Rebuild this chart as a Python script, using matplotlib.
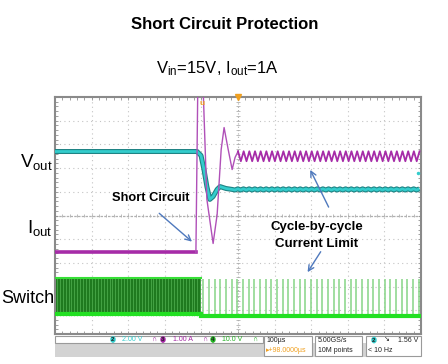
import numpy as np
import matplotlib
matplotlib.use('Agg')
import matplotlib.pyplot as plt
from matplotlib.patches import Rectangle

plt.rcParams['font.family'] = ['Liberation Sans', 'DejaVu Sans']
plt.rcParams['mathtext.fontset'] = 'custom'
plt.rcParams['mathtext.rm'] = 'Liberation Sans'
plt.rcParams['mathtext.it'] = 'Liberation Sans:italic'
plt.rcParams['mathtext.bf'] = 'Liberation Sans:bold'

# --- data, in screen divisions (x: -5..5, y: -5..5) ---
# Vout (cyan)
vout_x = [-5.0, -1.12, -1.01, -0.93, -0.85, -0.77, -0.68, -0.57, -0.49, -0.33, -0.16]
vout_y = [2.70, 2.70, 2.53, 1.94, 1.22, 0.68, 0.80, 1.10, 1.22, 1.14, 1.10]
vout_level = 1.10
vout_ripple = 0.025

# Iout (magenta)
iout_x = [-5.0, -1.15, -1.09, -0.98, -0.85, -0.68, -0.57, -0.46, -0.38, -0.27, -0.16, -0.08, 0.0]
iout_y = [-1.56, -1.56, 6.6, 6.6, 0.68, -1.18, 0.04, 2.78, 3.71, 2.80, 1.94, 2.45, 2.70]
iout_hi = 2.71
iout_lo = 2.29

# switching period after the short (cycle-by-cycle), divisions
sw_period = 0.155
sw_dense_end = -1.01
sw_dense_period = 0.08
sw_top = -2.62
sw_base = -4.22

fig = plt.figure(figsize=(4.48, 3.64), dpi=100)
ax = fig.add_axes([55 / 448, 30 / 364, 366 / 448, 237 / 364])
ax.set_xlim(-5, 5)
ax.set_ylim(-5, 5)

# grid
for i in range(-4, 5):
    if i == 0:
        continue
    ax.axvline(i, color='#c4c4c4', lw=0.8, ls=(0, (1, 3)), zorder=0)
    ax.axhline(i, color='#c4c4c4', lw=0.8, ls=(0, (1, 3)), zorder=0)
ax.axvline(0, color='#b0b0b0', lw=0.8, ls=(0, (1, 2)), zorder=0)
ax.axhline(0, color='#b0b0b0', lw=0.9, ls=(0, (2, 1)), zorder=0)
mt = np.arange(-5, 5.01, 0.2)
ax.vlines(mt, -0.08, 0.08, color='#b0b0b0', lw=0.6, zorder=0)
ax.hlines(mt, -0.05, 0.05, color='#b0b0b0', lw=0.6, zorder=0)

ax.set_xticks(mt)
ax.set_yticks(mt)
ax.tick_params(direction='in', length=2, width=0.6, color='#909090',
               top=True, right=True, labelbottom=False, labelleft=False)
for s in ax.spines.values():
    s.set_color('#8a8a8a')
    s.set_linewidth(1.5)

# switch node (green)
ax.fill_between([-5, sw_dense_end], sw_base, sw_top, color='#1f7a1f', lw=0, zorder=2)
dense_x = np.arange(-4.95, sw_dense_end, sw_dense_period)
ax.vlines(dense_x, sw_base, sw_top, color='#6fd06f', lw=0.6, alpha=0.55, zorder=2)
ax.plot([-5, sw_dense_end], [sw_top, sw_top], color='#36e036', lw=1.5, zorder=3)
pulse_x = np.arange(sw_dense_end + 0.06, 5, sw_period)
ax.vlines(pulse_x, sw_base, sw_top - 0.05, color='#86d486', lw=1.1, zorder=2)
ax.plot([-5, sw_dense_end], [sw_base + 0.08, sw_base + 0.08], color='#22e022', lw=3, zorder=3)
ax.plot([sw_dense_end, 5], [sw_base, sw_base], color='#22e022', lw=3, zorder=3)

# Vout
rx = np.arange(-0.16, 5.0, sw_period / 2)
ry = vout_level + vout_ripple * np.where(np.arange(len(rx)) % 2 == 0, 1, -1)
vx = np.concatenate([vout_x, rx[1:]])
vy = np.concatenate([vout_y, ry[1:]])
ax.plot(vx, vy, color='#1e8384', lw=3.6, zorder=4, solid_capstyle='butt')
ax.plot(vx, vy, color='#33cccc', lw=2.0, zorder=4, solid_capstyle='butt')

# Iout
ax.plot(iout_x[:2], iout_y[:2], color='#a62ca8', lw=2.6, zorder=5)
ix = np.arange(0.0, 5.0, sw_period / 2)
iy = np.where(np.arange(len(ix)) % 2 == 0, iout_hi, iout_lo)
ax.plot(iout_x[1:], iout_y[1:], color='#b050b8', lw=1.0, zorder=5)
ax.plot(ix, iy, color='#a62ca8', lw=1.3, zorder=5)

# markers
ax.plot([0], [5], marker='v', color='#f0a020', ms=4, clip_on=False, zorder=6)
ax.text(-0.98, 4.72, 'u', color='#f0a020', fontsize=6, fontweight='bold', ha='center', va='center', zorder=6)
ax.plot([4.93], [1.81], marker='.', color='#33cccc', ms=3, zorder=6)

# annotations
arr = dict(arrowstyle='->', color='#4f79bd', lw=1.0, mutation_scale=10)
ax.text(-3.44, 0.63, 'Short Circuit', fontsize=9.3, fontweight='bold', ha='left', va='baseline', zorder=7)
ax.annotate('', xy=(-1.20, -1.18), xytext=(-2.21, 0.17), arrowprops=arr, zorder=7)
ax.text(2.16, -0.63, 'Cycle-by-cycle', fontsize=9.5, fontweight='bold', ha='center', va='baseline', zorder=7)
ax.text(2.16, -1.31, 'Current Limit', fontsize=9.5, fontweight='bold', ha='center', va='baseline', zorder=7)
ax.annotate('', xy=(1.94, 2.03), xytext=(2.51, 0.25), arrowprops=arr, zorder=7)
ax.annotate('', xy=(1.86, -2.49), xytext=(2.30, -1.43), arrowprops=arr, zorder=7)

# titles and channel labels
fig.text(225 / 448, 1 - 29 / 364, 'Short Circuit Protection', fontsize=12, fontweight='bold',
         ha='center', va='baseline')
fig.text(217 / 448, 1 - 73 / 364, r'V$_{\mathrm{in}}$=15V, I$_{\mathrm{out}}$=1A', fontsize=12,
         ha='center', va='baseline')
fig.text(53 / 448, 1 - 167 / 364, r'V$_{\mathrm{out}}$', fontsize=13.5, ha='right', va='baseline')
fig.text(53 / 448, 1 - 233 / 364, r'I$_{\mathrm{out}}$', fontsize=13.5, ha='right', va='baseline')
fig.text(54 / 448, 1 - 303 / 364, 'Switch', fontsize=13, ha='right', va='baseline')

# status bar, pixel overlay
ov = fig.add_axes([0, 0, 1, 1], zorder=5)
ov.set_xlim(0, 448)
ov.set_ylim(364, 0)
ov.axis('off')
ov.add_patch(Rectangle((55, 343), 366, 14, fc='#d3d3d3', ec='none'))
ov.add_patch(Rectangle((55, 335.5), 208, 7.5, fc='white', ec='#9a9a9a', lw=0.8))
for bx, bw in [(264, 48), (315, 47), (366, 55)]:
    ov.add_patch(Rectangle((bx, 335.5), bw, 20.5, fc='white', ec='#9a9a9a', lw=0.8))

fs = 5
def badge(x, y, s, c):
    ov.text(x, y, s, fontsize=4.5, fontweight='bold', color='#202020', ha='center', va='center',
            bbox=dict(boxstyle='round,pad=0.15,rounding_size=0.5', fc=c, ec='none'))

badge(113, 339.5, '2', '#33cccc')
ov.text(122, 339.5, '2.00 V', fontsize=fs, color='#33cccc', va='center')
ov.text(152, 339.5, '\u2229', fontsize=fs, color='#a326a3', va='center')
badge(163, 339.5, '3', '#a326a3')
ov.text(173, 339.5, '1.00 A', fontsize=fs, color='#a326a3', va='center')
ov.text(203, 339.5, '\u2229', fontsize=fs, color='#a326a3', va='center')
badge(213, 339.5, '4', '#22b022')
ov.text(222, 339.5, '10.0 V', fontsize=fs, color='#22b022', va='center')
ov.text(253, 339.5, '\u2229', fontsize=fs, color='#22b022', va='center')
ov.text(266, 340, '100\u00b5s', fontsize=fs, color='#202020', va='center')
ov.text(266, 350, '\u25b8+98.0000\u00b5s', fontsize=fs, color='#f0a020', va='center')
ov.text(318, 340, '5.00GS/s', fontsize=fs, color='#202020', va='center')
ov.text(318, 350, '10M points', fontsize=fs, color='#202020', va='center')
badge(374, 340, '2', '#33cccc')
ov.text(384, 340, '\u2198', fontsize=fs, color='#202020', va='center')
ov.text(418, 340, '1.56 V', fontsize=fs, color='#202020', va='center', ha='right')
ov.text(368, 350, '< 10 Hz', fontsize=fs, color='#202020', va='center')

fig.savefig('out.png', dpi=100)
